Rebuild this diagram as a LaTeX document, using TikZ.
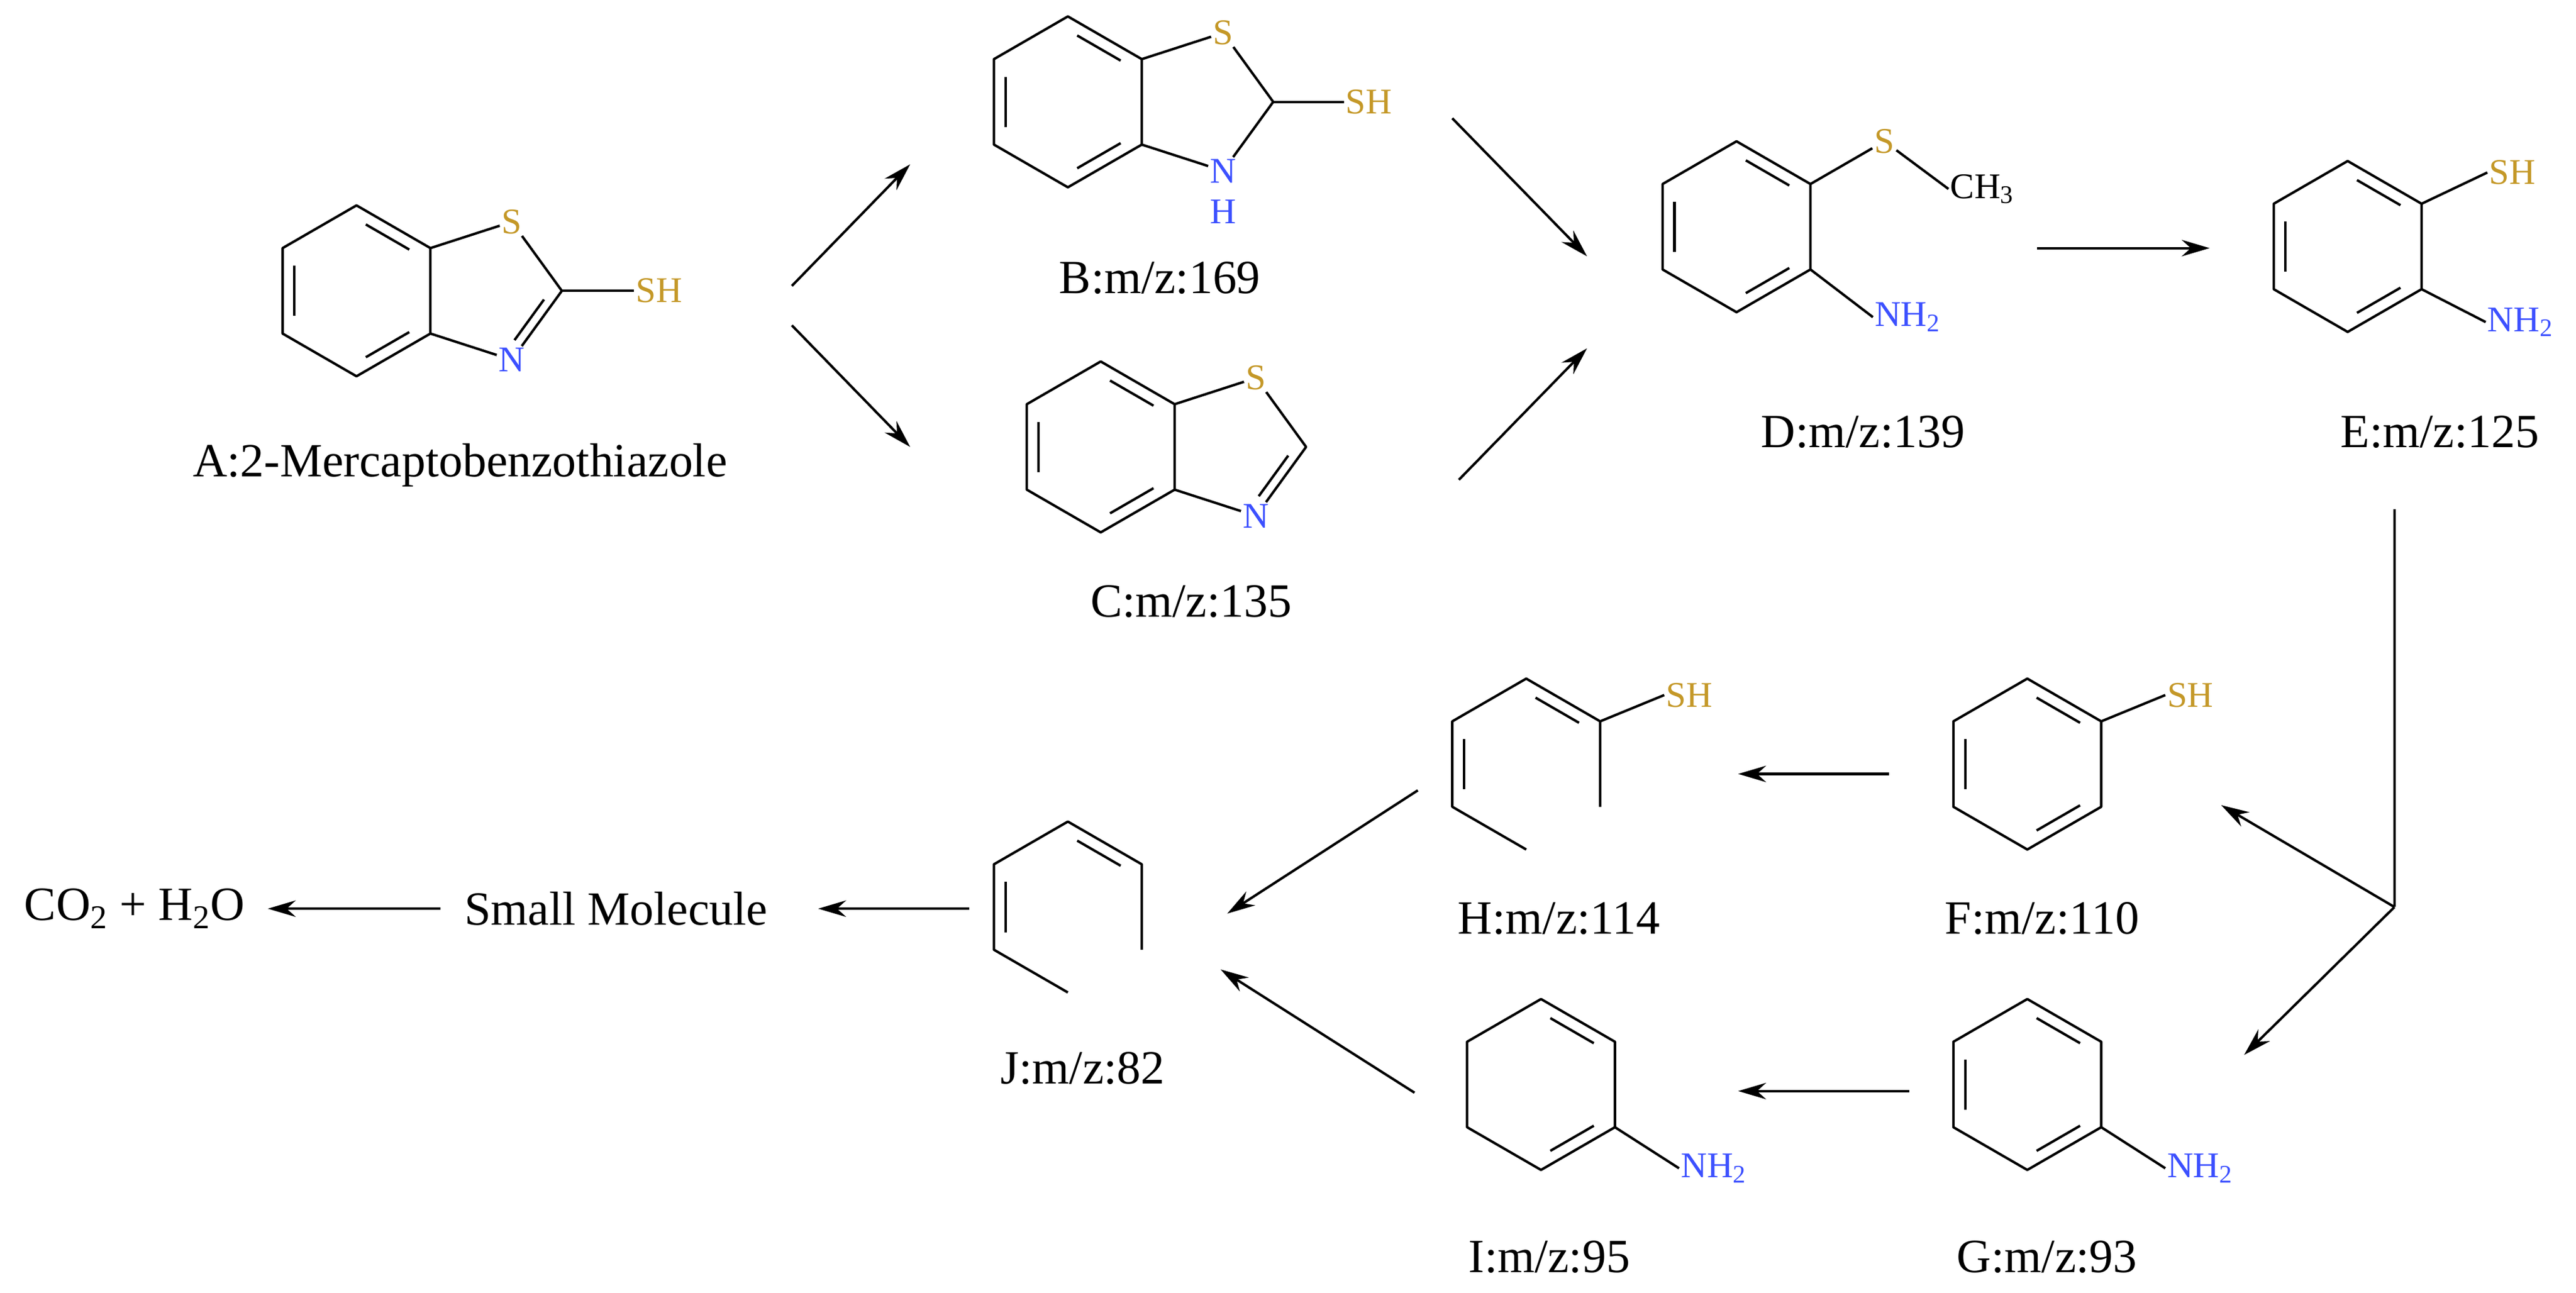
\documentclass[tikz,border=0pt]{standalone}
\usepackage{fontspec}
\setmainfont{Liberation Serif}
\usetikzlibrary{calc,arrows.meta}
\definecolor{scol}{RGB}{196,152,40}
\definecolor{ncol}{RGB}{60,80,255}
\tikzset{
 bond/.style={line width=1.5pt,line join=round},
 rxn/.style={line width=1.5pt,-{Stealth[length=17pt,width=10pt]}},
 atomS/.style={text=scol,inner sep=1pt,font=\fontsize{22}{24}\selectfont},
 atomN/.style={text=ncol,inner sep=1pt,font=\fontsize{22}{24}\selectfont},
 atomC/.style={text=black,inner sep=1pt,font=\fontsize{22}{24}\selectfont},
 lbl/.style={font=\fontsize{29}{33}\selectfont,inner sep=0pt}
}
\newcommand\ringpts[3]{%
 \coordinate (#1c) at (#2,#3);
 \coordinate (#11) at ($(#2,#3)+(45,-26)$);
 \coordinate (#12) at ($(#2,#3)+(0,-52)$);
 \coordinate (#13) at ($(#2,#3)+(-45,-26)$);
 \coordinate (#14) at ($(#2,#3)+(-45,26)$);
 \coordinate (#15) at ($(#2,#3)+(0,52)$);
 \coordinate (#16) at ($(#2,#3)+(45,26)$);}
\newcommand\dbl[3]{\draw[bond] ($(#1)!0.15!(#2)!0.16!(#3)$) -- ($(#2)!0.15!(#1)!0.16!(#3)$);}
\newcommand\benz[1]{\draw[bond] (#11)--(#12)--(#13)--(#14)--(#15)--(#16)--cycle;
 \dbl{#13}{#14}{#1c}\dbl{#12}{#11}{#1c}\dbl{#15}{#16}{#1c}}
\begin{document}
\begin{tikzpicture}[x=1pt,y=-1pt]
\useasboundingbox (0,0) rectangle (1568,786.6);
% A
\ringpts{A}{217}{177}\benz{A}
\node[atomS] (AS) at (311.5,135) {S};
\coordinate (AC2) at (342,177);
\node[atomN] (AN) at (311.5,219) {N};
\coordinate (Ap) at (298,177);
\draw[bond] (A1)--(AS)--(AC2)--(AN)--(A6);
\dbl{AC2}{AN}{Ap}
\node[atomS,anchor=west] (ASH) at (386,177) {SH};
\draw[bond] (AC2)--(ASH.west);
\node[lbl] (Alab) at (280,283) {A:2-Mercaptobenzothiazole};
% B
\ringpts{B}{650}{62}\benz{B}
\node[atomS] (BS) at (744.5,20) {S};
\coordinate (BC2) at (775,62);
\node[atomN] (BN) at (744.5,104) {N};
\node[atomN] (BH) at (744.5,129) {H};
\draw[bond] (B1)--(BS)--(BC2)--(BN)--(B6);
\node[atomS,anchor=west] (BSH) at (818,62) {SH};
\draw[bond] (BC2)--(BSH.west);
\node[lbl] (Blab) at (706,169) {B:m/z:169};
% C
\ringpts{C}{670}{272}\benz{C}
\node[atomS] (CS) at (764.5,230) {S};
\coordinate (CC2) at (795,272);
\node[atomN] (CN) at (764.5,314) {N};
\coordinate (Cp) at (751,272);
\draw[bond] (C1)--(CS)--(CC2)--(CN)--(C6);
\dbl{CC2}{CN}{Cp}
\node[lbl] (Clab) at (725,366) {C:m/z:135};
% D
\ringpts{D}{1057}{138}\benz{D}
\node[atomS] (DS) at (1147,86) {S};
\node[atomC,anchor=west] (DCH) at (1186,115) {CH\textsubscript{3}};
\node[atomN,anchor=west] (DNH) at (1140,193) {NH\textsubscript{2}};
\draw[bond] (D1)--(DS)--(DCH.west);
\draw[bond] (D6)--(DNH.west);
\node[lbl] (Dlab) at (1134,263) {D:m/z:139};
% E
\ringpts{E}{1429}{150}\benz{E}
\node[atomS,anchor=west] (ESH) at (1514,105) {SH};
\node[atomN,anchor=west] (ENH) at (1513,196) {NH\textsubscript{2}};
\draw[bond] (E1)--(ESH.west);
\draw[bond] (E6)--(ENH.west);
\node[lbl] (Elab) at (1485,263) {E:m/z:125};
% F
\ringpts{F}{1234}{465}\benz{F}
\node[atomS,anchor=west] (FSH) at (1318,423) {SH};
\draw[bond] (F1)--(FSH.west);
\node[lbl] (Flab) at (1243,559) {F:m/z:110};
% G
\ringpts{G}{1234}{660}\benz{G}
\node[atomN,anchor=west] (GNH) at (1318,711) {NH\textsubscript{2}};
\draw[bond] (G6)--(GNH.west);
\node[lbl] (Glab) at (1246,765) {G:m/z:93};
% H
\ringpts{H}{929}{465}
\draw[bond] (H5)--(H4)--(H3)--(H2)--(H1)--(H6);
\dbl{H3}{H4}{Hc}\dbl{H2}{H1}{Hc}
\node[atomS,anchor=west] (HSH) at (1013,423) {SH};
\draw[bond] (H1)--(HSH.west);
\node[lbl] (Hlab) at (949,559) {H:m/z:114};
% I
\ringpts{I}{938}{660}
\draw[bond] (I1)--(I2)--(I3)--(I4)--(I5)--(I6)--cycle;
\dbl{I2}{I1}{Ic}\dbl{I5}{I6}{Ic}
\node[atomN,anchor=west] (INH) at (1022,711) {NH\textsubscript{2}};
\draw[bond] (I6)--(INH.west);
\node[lbl] (Ilab) at (943,765) {I:m/z:95};
% J
\ringpts{J}{650}{552}
\draw[bond] (J5)--(J4)--(J3)--(J2)--(J1)--(J6);
\dbl{J3}{J4}{Jc}\dbl{J2}{J1}{Jc}
\node[lbl] (Jlab) at (659,650) {J:m/z:82};
% left
\node[lbl] (SM) at (375,553) {Small Molecule};
\node[lbl] (CO) at (82,553) {CO\textsubscript{2} + H\textsubscript{2}O};
% arrows
\coordinate (a1s) at (482,174); \coordinate (a1e) at (554,100);
\coordinate (a2s) at (482,198); \coordinate (a2e) at (554,272);
\coordinate (a3s) at (884,72);  \coordinate (a3e) at (966,156);
\coordinate (a4s) at (888,292); \coordinate (a4e) at (966,212);
\coordinate (a5s) at (1240,151); \coordinate (a5e) at (1345,151);
\coordinate (Etop) at (1457.5,310); \coordinate (br) at (1457.5,552);
\coordinate (Ftip) at (1352,490); \coordinate (Gtip) at (1366,642);
\coordinate (a6s) at (1150,471); \coordinate (a6e) at (1058,471);
\coordinate (a7s) at (1162,664); \coordinate (a7e) at (1058,664);
\coordinate (a8s) at (863,481); \coordinate (a8e) at (747,556);
\coordinate (a9s) at (861,665); \coordinate (a9e) at (743,590);
\coordinate (a10s) at (590,553); \coordinate (a10e) at (498,553);
\coordinate (a11s) at (268,553); \coordinate (a11e) at (163,553);
\draw[rxn] (a1s)--(a1e);
\draw[rxn] (a2s)--(a2e);
\draw[rxn] (a3s)--(a3e);
\draw[rxn] (a4s)--(a4e);
\draw[rxn] (a5s)--(a5e);
\draw[line width=1.5pt] (Etop)--(br);
\draw[rxn] (br)--(Ftip);
\draw[rxn] (br)--(Gtip);
\draw[rxn] (a6s)--(a6e);
\draw[rxn] (a7s)--(a7e);
\draw[rxn] (a8s)--(a8e);
\draw[rxn] (a9s)--(a9e);
\draw[rxn] (a10s)--(a10e);
\draw[rxn] (a11s)--(a11e);
\end{tikzpicture}
\end{document}
